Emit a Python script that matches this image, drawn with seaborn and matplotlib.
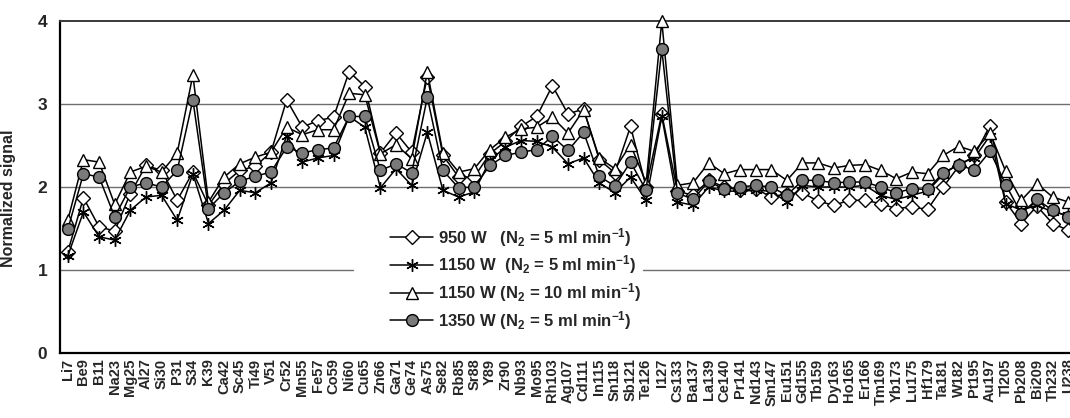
import numpy as np
import pandas as pd
import matplotlib
matplotlib.use("Agg")
import matplotlib.pyplot as plt
import seaborn as sns

# Isotopes measured
isotopes = ["Li7", "Be9", "B11", "Na23", "Mg25", "Al27", "Si30", "P31", "S34", "K39",
            "Ca42", "Sc45", "Ti49", "V51", "Cr52", "Mn55", "Fe57", "Co59", "Ni60", "Cu65",
            "Zn66", "Ga71", "Ge74", "As75", "Se82", "Rb85", "Sr88", "Y89", "Zr90", "Nb93",
            "Mo95", "Rh103", "Ag107", "Cd111", "In115", "Sn118", "Sb121", "Te126", "I127",
            "Cs133", "Ba137", "La139", "Ce140", "Pr141", "Nd143", "Sm147", "Eu151", "Gd155",
            "Tb159", "Dy163", "Ho165", "Er166", "Tm169", "Yb173", "Lu175", "Hf179", "Ta181",
            "W182", "Pt195", "Au197", "Tl205", "Pb208", "Bi209", "Th232", "U238"]

# Normalized signal for each plasma condition
sig_950w_n5 = [1.22, 1.87, 1.52, 1.47, 1.92, 2.26, 2.20, 1.84, 2.18, 1.78,
               2.04, 2.20, 2.25, 2.42, 3.05, 2.72, 2.80, 2.84, 3.39, 3.21,
               2.41, 2.65, 2.42, 3.33, 2.38, 2.12, 2.12, 2.40, 2.55, 2.73,
               2.85, 3.22, 2.88, 2.94, 2.33, 2.17, 2.73, 2.00, 2.88,
               1.95, 1.90, 2.08, 2.00, 1.96, 1.98, 1.88, 1.92, 1.93,
               1.83, 1.78, 1.84, 1.84, 1.80, 1.74, 1.76, 1.73, 2.00,
               2.25, 2.38, 2.74, 1.82, 1.56, 1.77, 1.56, 1.48]

sig_1150w_n5 = [1.17, 1.70, 1.40, 1.36, 1.72, 1.88, 1.90, 1.60, 2.16, 1.56,
                1.72, 1.96, 1.93, 2.05, 2.62, 2.30, 2.35, 2.38, 2.85, 2.72,
                1.99, 2.22, 2.02, 2.66, 1.96, 1.88, 1.94, 2.32, 2.48, 2.56,
                2.55, 2.48, 2.28, 2.35, 2.05, 1.93, 2.12, 1.84, 2.85,
                1.82, 1.78, 2.00, 1.95, 1.95, 1.96, 1.95, 1.82, 2.02,
                2.00, 2.00, 2.00, 2.02, 1.90, 1.85, 1.90, 1.95, 2.15,
                2.28, 2.35, 2.62, 1.80, 1.72, 1.78, 1.70, 1.66]

sig_1150w_n10 = [1.60, 2.33, 2.30, 1.79, 2.18, 2.25, 2.18, 2.41, 3.35, 1.82,
                 2.12, 2.28, 2.36, 2.42, 2.72, 2.63, 2.69, 2.69, 3.13, 3.11,
                 2.40, 2.51, 2.34, 3.39, 2.41, 2.18, 2.22, 2.45, 2.60, 2.70,
                 2.72, 2.84, 2.65, 2.93, 2.35, 2.22, 2.51, 2.05, 4.00,
                 2.02, 2.05, 2.29, 2.16, 2.21, 2.21, 2.21, 2.08, 2.29,
                 2.29, 2.23, 2.26, 2.27, 2.20, 2.10, 2.18, 2.16, 2.38,
                 2.49, 2.43, 2.65, 2.19, 1.84, 2.04, 1.88, 1.82]

sig_1350w_n5 = [1.49, 2.16, 2.12, 1.64, 2.00, 2.05, 2.00, 2.20, 3.05, 1.74,
                1.93, 2.07, 2.13, 2.18, 2.48, 2.41, 2.45, 2.47, 2.85, 2.85,
                2.20, 2.28, 2.17, 3.08, 2.20, 1.99, 2.00, 2.26, 2.38, 2.42,
                2.45, 2.61, 2.44, 2.66, 2.13, 2.01, 2.30, 1.96, 3.66,
                1.93, 1.85, 2.07, 1.97, 2.00, 2.02, 2.00, 1.90, 2.08,
                2.08, 2.05, 2.06, 2.06, 2.00, 1.93, 1.98, 1.97, 2.17,
                2.27, 2.20, 2.43, 2.03, 1.68, 1.85, 1.72, 1.64]

labels = [r"950 W   (N$_2$ = 5 ml min$^{-1}$)",
          r"1150 W  (N$_2$ = 5 ml min$^{-1}$)",
          r"1150 W (N$_2$ = 10 ml min$^{-1}$)",
          r"1350 W (N$_2$ = 5 ml min$^{-1}$)"]

sns.set_style("white")
plt.rcParams["font.family"] = ["Liberation Sans", "DejaVu Sans"]
plt.rcParams["font.weight"] = "bold"
plt.rcParams["mathtext.fontset"] = "custom"
plt.rcParams["mathtext.rm"] = "Liberation Sans:bold"
plt.rcParams["mathtext.it"] = "Liberation Sans:bold"
plt.rcParams["mathtext.bf"] = "Liberation Sans:bold"

pos = np.arange(len(isotopes))
df = pd.DataFrame({
    "pos": pos,
    "s950": sig_950w_n5,
    "s1150": sig_1150w_n5,
    "s1150b": sig_1150w_n10,
    "s1350": sig_1350w_n5,
})

fig = plt.figure(figsize=(10.70, 4.18), dpi=100)
ax = fig.add_axes([60 / 1070, 65 / 418, 1016 / 1070, 332 / 418])

styles = [
    ("s950", dict(marker="D", markersize=7, markerfacecolor="white")),
    ("s1150", dict(marker=(6, 2, 0), markersize=9, markerfacecolor="black")),
    ("s1150b", dict(marker="^", markersize=9, markerfacecolor="white")),
    ("s1350", dict(marker="o", markersize=8.5, markerfacecolor="#7a7a7a")),
]
for (col, st), lab in zip(styles, labels):
    sns.lineplot(data=df, x="pos", y=col, ax=ax, color="black", linewidth=1.1,
                 markeredgecolor="black", markeredgewidth=1.0, label=lab,
                 clip_on=False, zorder=3, **st)

ax.set_xlim(-0.5, len(isotopes) - 0.5)
ax.set_ylim(0, 4)

# horizontal guide lines (the one at 1 is interrupted by the legend)
for yv in (2, 3):
    ax.axhline(yv, color="#6e6e6e", linewidth=1.0, zorder=1)
ax.axhline(1, xmin=0.0, xmax=(353 - 60) / 1016, color="#6e6e6e", linewidth=1.0, zorder=1)
ax.axhline(1, xmin=(643 - 60) / 1016, xmax=1.0, color="#6e6e6e", linewidth=1.0, zorder=1)

for side in ("left", "bottom"):
    ax.spines[side].set_color("black")
    ax.spines[side].set_linewidth(1.6)
ax.spines["top"].set_color("#3a3a3a")
ax.spines["top"].set_linewidth(1.4)
ax.spines["right"].set_visible(False)

ax.set_xticks(pos)
ax.set_xticklabels(isotopes, rotation=90, fontsize=10.5, fontweight="bold")
ax.set_xticks(pos[:-1] + 0.5, minor=True)
ax.tick_params(axis="x", which="major", length=0, pad=4)
ax.tick_params(axis="x", which="minor", direction="in", length=4, width=1.0, color="black")
ax.set_yticks([0, 1, 2, 3, 4])
ax.set_yticklabels(["0", "1", "2", "3", "4"], fontsize=12.5, fontweight="bold")
ax.tick_params(axis="y", length=0, pad=9)

ax.set_xlabel("")
ax.set_ylabel("Normalized signal", fontsize=11.5, fontweight="bold")
ax.yaxis.set_label_coords(-0.043, 0.465)

ax.legend(loc="upper left", bbox_to_anchor=((390 - 60) / 1016, (353 - 226) / 332),
          frameon=False, fontsize=12, handlelength=2.6, handletextpad=0.3,
          labelspacing=0.28, borderaxespad=0, borderpad=0)

fig.savefig("out.png", dpi=100)
